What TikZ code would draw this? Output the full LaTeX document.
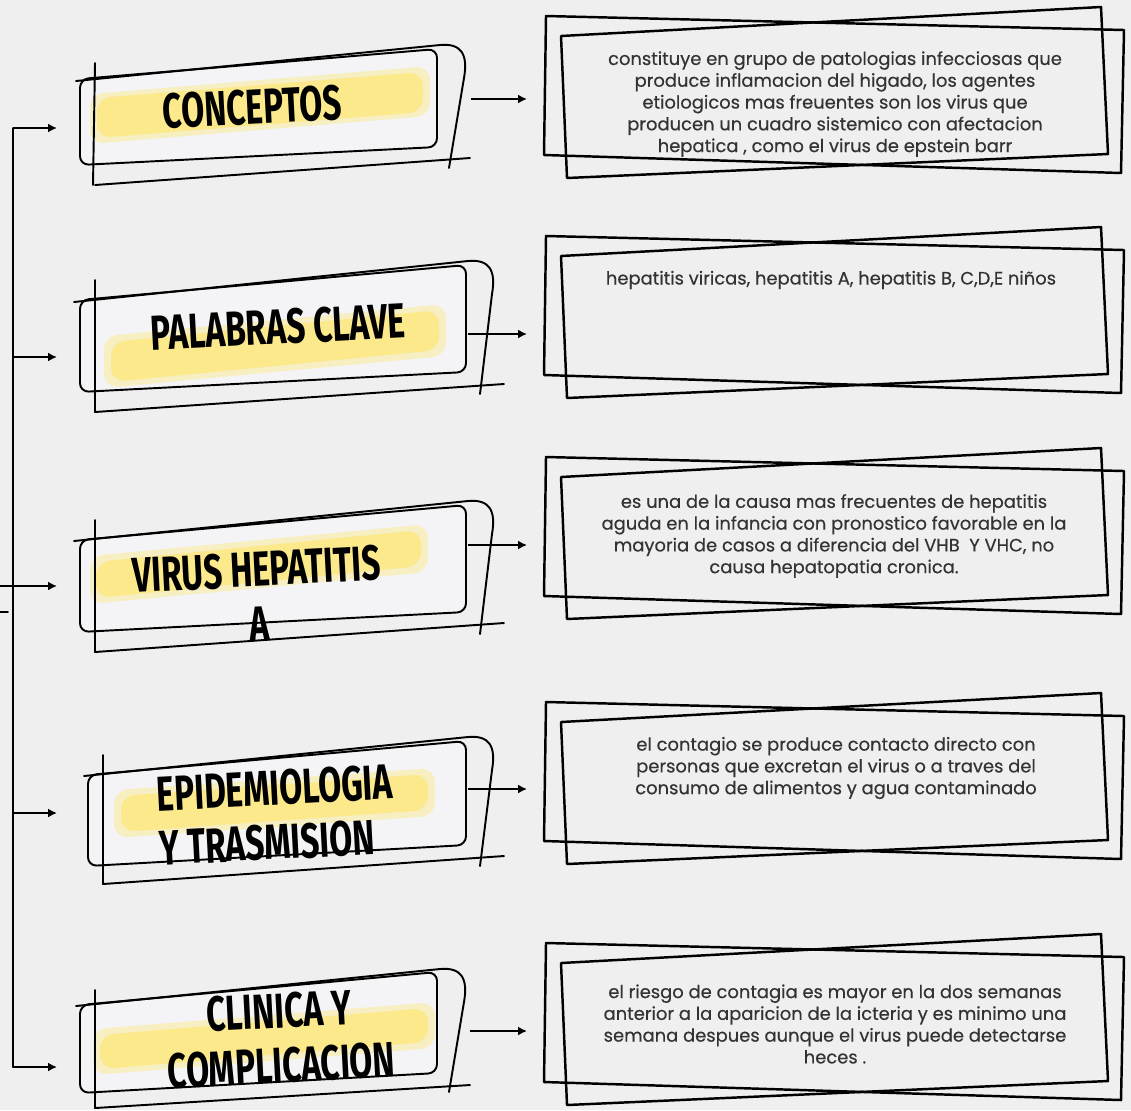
\documentclass[tikz,border=0pt]{standalone}
\usepackage{fontspec}
\setmainfont{Poppins}
\newfontfamily\titlefont{Fira Sans}[FakeStretch=0.68]
\newfontfamily\descfont{Poppins}[FakeBold=0.4]
\usetikzlibrary{arrows.meta}
\definecolor{bgcol}{HTML}{EFEFEF}
\definecolor{boxfill}{HTML}{F4F4F7}
\definecolor{marker}{HTML}{FBE98C}
\definecolor{inkgrey}{HTML}{333333}
\tikzset{
 sketch/.style={line width=1.1pt, line cap=round, line join=round},
 frame/.style={line width=1.4pt, line join=round},
 hilite/.style={fill=marker, rounded corners=8pt},
 title/.style={font=\titlefont\bfseries\fontsize{28}{31}\selectfont, text=black, rotate=3, align=center, inner sep=0pt},
 desc/.style={font=\descfont\fontsize{10.2}{12.4}\selectfont, text=inkgrey, align=center, inner sep=0pt},
 arr/.style={line width=1.1pt, -{Latex[length=5pt,width=5pt]}}
}
\begin{document}
\begin{tikzpicture}[x=0.02cm,y=-0.02cm]
\fill[bgcol] (0,0) rectangle (1131,1110);
\useasboundingbox (0,0) rectangle (1131,1110);
% CONCEPTOS
\fill[boxfill, rounded corners=5pt] (80,79)--(437,49)--(437,147)--(80,165)--cycle;
\fill[hilite, opacity=.5] (90,144)--(430,116)--(430,66)--(90,94)--cycle;
\fill[hilite] (97,138)--(423,112)--(423,72)--(97,98)--cycle;
\draw[sketch, rounded corners=5pt] (80,79)--(437,49)--(437,147)--(80,165)--cycle;
\draw[sketch] (95,63)--(93,185);
\draw[sketch] (76,81)--(440,45) .. controls (462,43) and (468,55) .. (464,78)--(449,168);
\draw[sketch] (95,185)--(470,158);
\node[title] (t1) at (252,107) {CONCEPTOS};
% PALABRAS CLAVE
\fill[boxfill, rounded corners=5pt] (80,300)--(466,265)--(466,372)--(80,392)--cycle;
\fill[hilite, opacity=.5] (104,388)--(446,356)--(446,304)--(104,336)--cycle;
\fill[hilite] (111,382)--(439,350)--(439,310)--(111,342)--cycle;
\draw[sketch, rounded corners=5pt] (80,300)--(466,265)--(466,372)--(80,392)--cycle;
\draw[sketch] (95,280)--(95,412);
\draw[sketch] (74,302)--(468,261) .. controls (490,259) and (496,271) .. (492,294)--(480,394);
\draw[sketch] (95,412)--(504,384);
\node[title] (t2) at (278,327) {PALABRAS CLAVE};
% VIRUS HEPATITIS A
\fill[boxfill, rounded corners=5pt] (80,540)--(466,505)--(466,612)--(80,632)--cycle;
\fill[hilite, opacity=.5] (90,604)--(428,572)--(428,524)--(90,556)--cycle;
\fill[hilite] (96,598)--(421,566)--(421,530)--(96,562)--cycle;
\draw[sketch, rounded corners=5pt] (80,540)--(466,505)--(466,612)--(80,632)--cycle;
\draw[sketch] (95,520)--(95,652);
\draw[sketch] (74,541)--(468,501) .. controls (490,499) and (496,511) .. (492,534)--(480,634);
\draw[sketch] (95,652)--(504,623);
\node[title] (t3) at (258,596) {VIRUS HEPATITIS\\A};
% EPIDEMIOLOGIA
\fill[boxfill, rounded corners=5pt] (88,775)--(466,741)--(466,845)--(88,866)--cycle;
\fill[hilite, opacity=.5] (114,838)--(435,816)--(435,768)--(114,790)--cycle;
\fill[hilite] (121,832)--(428,810)--(428,774)--(121,796)--cycle;
\draw[sketch, rounded corners=5pt] (88,775)--(466,741)--(466,845)--(88,866)--cycle;
\draw[sketch] (103,755)--(103,884);
\draw[sketch] (84,776)--(468,737) .. controls (490,735) and (496,747) .. (492,770)--(480,866);
\draw[sketch] (103,884)--(504,856);
\node[title, align=left] (t4) at (276,815) {EPIDEMIOLOGIA\\Y TRASMISION};
% CLINICA
\fill[boxfill, rounded corners=5pt] (80,1005)--(437,972)--(437,1073)--(80,1093)--cycle;
\fill[hilite, opacity=.5] (93,1075)--(435,1048)--(435,1002)--(93,1029)--cycle;
\fill[hilite] (100,1069)--(428,1042)--(428,1008)--(100,1035)--cycle;
\draw[sketch, rounded corners=5pt] (80,1005)--(437,972)--(437,1073)--(80,1093)--cycle;
\draw[sketch] (95,990)--(95,1108);
\draw[sketch] (76,1006)--(440,969) .. controls (462,967) and (468,979) .. (464,1002)--(449,1092);
\draw[sketch] (95,1108)--(470,1085);
\node[title] (t5) at (280,1038) {CLINICA Y\\COMPLICACION};
% right frames
\draw[frame] (546,16)--(1124,30)--(1121,173)--(544,155)--cycle;
\draw[frame] (561,36)--(1101,7)--(1108,154)--(567,178)--cycle;
\draw[frame] (546,236)--(1124,250)--(1121,393)--(544,375)--cycle;
\draw[frame] (561,256)--(1101,227)--(1108,374)--(567,398)--cycle;
\draw[frame] (546,457)--(1124,471)--(1121,614)--(544,596)--cycle;
\draw[frame] (561,477)--(1101,448)--(1108,595)--(567,619)--cycle;
\draw[frame] (546,702)--(1124,716)--(1121,859)--(544,841)--cycle;
\draw[frame] (561,722)--(1101,693)--(1108,840)--(567,864)--cycle;
\draw[frame] (546,943)--(1124,957)--(1121,1100)--(544,1082)--cycle;
\draw[frame] (561,963)--(1101,934)--(1108,1081)--(567,1105)--cycle;
\node[desc] (d1) at (835,104) {constituye en grupo de patologias infecciosas que\\produce inflamacion del higado, los agentes\\etiologicos mas freuentes son los virus que\\producen un cuadro sistemico con afectacion\\hepatica , como el virus de epstein barr};
\node[desc] (d2) at (831,280) {hepatitis viricas, hepatitis A, hepatitis B, C,D,E niños};
\node[desc] (d3) at (834,536) {es una de la causa mas frecuentes de hepatitis\\aguda en la infancia con pronostico favorable en la\\mayoria de casos a diferencia del VHB\ \ Y VHC, no\\causa hepatopatia cronica.};
\node[desc] (d4) at (836,768) {el contagio se produce contacto directo con\\personas que excretan el virus o a traves del\\consumo de alimentos y agua contaminado};
\node[desc] (d5) at (835,1024) {el riesgo de contagia es mayor en la dos semanas\\anterior a la aparicion de la icteria y es minimo una\\semana despues aunque el virus puede detectarse\\heces .};
% arrows to the right
\coordinate (t1e) at (471,99);  \coordinate (d1w) at (527,99);
\coordinate (t2e) at (468,334); \coordinate (d2w) at (527,334);
\coordinate (t3e) at (468,545); \coordinate (d3w) at (527,545);
\coordinate (t4e) at (468,789); \coordinate (d4w) at (527,789);
\coordinate (t5e) at (470,1031); \coordinate (d5w) at (527,1031);
\draw[arr] (t1e)--(d1w);
\draw[arr] (t2e)--(d2w);
\draw[arr] (t3e)--(d3w);
\draw[arr] (t4e)--(d4w);
\draw[arr] (t5e)--(d5w);
% left bracket
\coordinate (s1) at (13,128);  \coordinate (t1w) at (57,128);
\coordinate (s2) at (13,357);  \coordinate (t2w) at (57,357);
\coordinate (in) at (0,586);   \coordinate (t3w) at (57,586);
\coordinate (s4) at (13,813);  \coordinate (t4w) at (57,813);
\coordinate (s5) at (13,1067); \coordinate (t5w) at (57,1067);
\draw[sketch] (s1)--(s5);
\draw[arr] (s1)--(t1w);
\draw[arr] (s2)--(t2w);
\draw[arr] (in)--(t3w);
\draw[arr] (s4)--(t4w);
\draw[arr] (s5)--(t5w);
\draw[sketch] (0,612)--(8,612);
\end{tikzpicture}
\end{document}
